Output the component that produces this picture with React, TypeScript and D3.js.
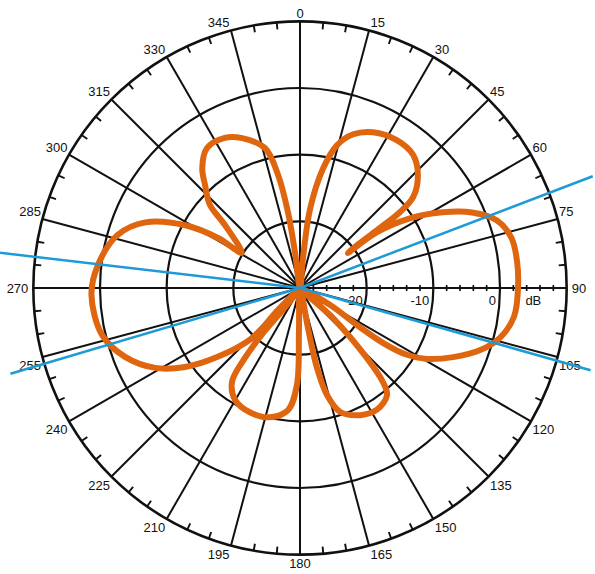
import React from "react";
import * as d3 from "d3";

// ---- data ----
const angleTicks = d3.range(0, 360, 15); // labelled spokes
const minorAngleStep = 5;
const ringDb = [-20, -10, 0];
const ringLabels = ["-20", "-10", "0"];
const dbTicks = [-28, -26, -24, -22, -18, -16, -14, -12, -8, -6, -4, -2, 2, 4, 6, 8];
const dbMin = -30;
const dbOuter = 10;

// Pattern traced in path order: angle (deg, clockwise from top) and level (dB)
const patternAngle = [
  0, 5.7, 7.3, 10.9, 14.5, 19.1, 25.1, 33.2, 40.4, 46.2, 51.2, 52.8, 53.1, 53.1, 53.9,
  54, 57.5, 62, 66.3, 71, 76.7, 83.2, 90, 97.5, 104, 109, 114.3, 119.2, 122, 123.5, 123, 119.5, 125,
  132.3, 136.3, 138.6, 140.9, 147.7, 154.7, 162.1, 165.8, 168, 168.7, 175,
  181.4, 181.8, 185.6, 193.1, 202, 210.1, 215.9, 218.2, 219.4, 218, 220,
  225, 223.8, 230, 235.5, 241.1, 248.5, 256.6, 268.1, 276.5, 286.2, 293, 298.7, 301.4, 301.1,
  310, 312.7, 317.3, 320.8, 326.4, 333.4, 338.9, 346, 349, 351, 352,
];
const patternDb = [
  -30, -25.5, -18.0, -11.8, -7.9, -5.6, -4.2, -3.5, -3.8, -5.5, -8.2, -11.2, -15.0, -18.8, -21.1,
  -15.8, -10.6, -5.8, -1.8, 1.2, 2.6, 2.8, 2.7, 2.4, 0.9, -1.4, -4.8, -8.2, -11.1, -15.1, -19.8, -24.8, -30,
  -23.3, -15.5, -11.2, -9.3, -8.4, -8.9, -10.5, -13.4, -17.7, -23.9, -30,
  -23.7, -15.5, -11.6, -10.1, -9.9, -10.6, -12.6, -16.6, -21.3, -25.6, -30,
  -25.3, -19.6, -14.0, -9.1, -5.2, -1.8, 0.5, 1.3, 0.5, -1.5, -4.8, -10.4, -15.6, -19.8,
  -15.3, -11.6, -9.0, -6.8, -4.8, -4.8, -5.9, -8.4, -12.7, -18.5, -24.5,
];

// Half-power marker rays (deg) and how far they reach (dB)
const markerAngles = [69.1, 105.8, 253.5, 276.7];
const markerReachDb = [17, 15.3, 15.3, 15.3];

// ---- layout ----
const W = 595;
const H = 574;
const CX = 300;
const CY = 288;
const R0 = 200; // radius of 0 dB ring
const FONT = "'Liberation Sans', Arial, Helvetica, sans-serif";
const INK = "#111";
const ORANGE = "#e0650f";
const BLUE = "#1e9bd7";

export default function App() {
  const r = d3.scaleLinear().domain([dbMin, 0]).range([0, R0]);
  const R = r(dbOuter);
  const rad = (deg: number) => (deg * Math.PI) / 180;
  const px = (deg: number, rr: number) => CX + rr * Math.sin(rad(deg));
  const py = (deg: number, rr: number) => CY - rr * Math.cos(rad(deg));

  const pts: [number, number][] = patternAngle.map((a, i) => [a, patternDb[i]]);
  const line = d3
    .lineRadial<[number, number]>()
    .angle((d) => rad(d[0]))
    .radius((d) => r(d[1]))
    .curve(d3.curveCatmullRomClosed.alpha(0.5));
  const pathD = line(pts) || "";

  const minor = d3.range(0, 360, minorAngleStep).filter((a) => a % 15 !== 0);

  return (
    <svg
      width={W}
      height={H}
      style={{ position: "absolute", left: 0, top: 0, background: "#fff" }}
      fontFamily={FONT}
    >
      <rect width={W} height={H} fill="#fff" />
      {/* spokes */}
      {angleTicks.map((a) => (
        <line key={"s" + a} x1={CX} y1={CY} x2={px(a, R)} y2={py(a, R)} stroke={INK} strokeWidth={2} />
      ))}
      {/* rings */}
      {ringDb.map((d) => (
        <circle key={"c" + d} cx={CX} cy={CY} r={r(d)} fill="none" stroke={INK} strokeWidth={2.2} />
      ))}
      <circle cx={CX} cy={CY} r={R} fill="none" stroke={INK} strokeWidth={2.6} />
      {/* minor angle ticks */}
      {minor.map((a) => (
        <line key={"m" + a} x1={px(a, R - 7)} y1={py(a, R - 7)} x2={px(a, R)} y2={py(a, R)} stroke={INK} strokeWidth={1.9} />
      ))}
      {/* dB axis ticks */}
      {dbTicks.map((d) => (
        <line key={"t" + d} x1={CX + r(d)} y1={CY - 3} x2={CX + r(d)} y2={CY + 3} stroke={INK} strokeWidth={1.7} />
      ))}
      {/* angle labels */}
      {angleTicks.map((a) => {
        const s = Math.sin(rad(a));
        const c = Math.cos(rad(a));
        const tx = px(a, R);
        const ty = py(a, R);
        const anchor = Math.abs(s) < 0.01 ? "middle" : s > 0 ? "start" : "end";
        const side = Math.abs(c) < 0.01;
        const dx = anchor === "middle" ? 0 : (side ? 5 : 1.5) * Math.sign(s);
        const y = side ? ty + 4.5 : c > 0 ? ty - 3 : ty + 13;
        return (
          <text key={"l" + a} x={tx + dx} y={y} fontSize={13} textAnchor={anchor} fill={INK}>
            {String(a)}
          </text>
        );
      })}
      {/* dB labels */}
      {ringDb.map((d, i) => (
        <text key={"dl" + d} x={CX + r(d) - 4} y={CY + 17} fontSize={13} textAnchor="end" fill={INK}>
          {ringLabels[i]}
        </text>
      ))}
      <text x={CX + (r(0) + R) / 2} y={CY + 17} fontSize={13} textAnchor="middle" fill={INK}>
        dB
      </text>
      {/* pattern */}
      <path d={pathD} transform={`translate(${CX},${CY})`} fill="none" stroke={ORANGE} strokeWidth={6} strokeLinejoin="round" />
      {/* half-power rays */}
      {markerAngles.map((a, i) => (
        <line
          key={"b" + a}
          x1={CX}
          y1={CY}
          x2={px(a, r(markerReachDb[i]))}
          y2={py(a, r(markerReachDb[i]))}
          stroke={BLUE}
          strokeWidth={2.5}
        />
      ))}
    </svg>
  );
}
